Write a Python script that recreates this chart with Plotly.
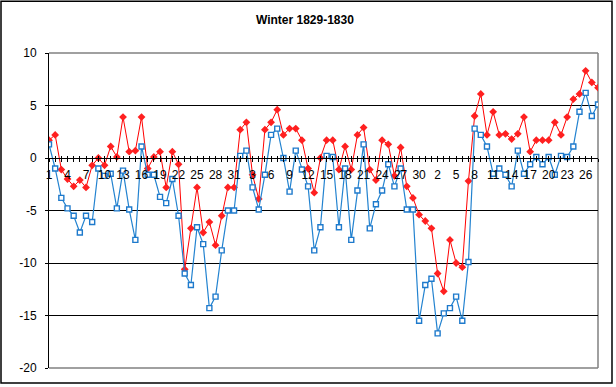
import plotly.graph_objects as go

# Categories: every day from 1 Dec 1829 to 28 Feb 1830
day_numbers = list(range(1, 32)) + list(range(1, 32)) + list(range(1, 29))
months = ["Dec"] * 31 + ["Jan"] * 31 + ["Feb"] * 28
categories = [f"{d} {m}" for d, m in zip(day_numbers, months)]

# Red series (higher readings)
red_values = [
    1.7, 2.2, -1.1, -2.0, -2.7, -2.1, -2.8, -0.7, 0.0, -0.7,
    1.1, 0.1, 3.9, 0.6, 0.7, 3.9, -1.0, 0.1, 0.6, -2.8,
    0.6, -0.6, -10.6, -6.7, -2.8, -7.1, -6.1, -8.3, -5.5, -2.8,
    -2.8, 2.7, 3.4, -1.6, -3.9, 2.7, 3.4, 4.6, 2.2, 2.8,
    2.8, 1.7, -1.0, -3.3, 0.0, 1.7, 1.7, -1.1, 1.1, -1.1,
    2.2, 2.9, -1.1, -2.1, 1.7, 1.3, -1.7, 1.0, -2.7, -3.8,
    -5.4, -6.0, -6.7, -11.0, -12.7, -7.8, -10.0, -10.4, -2.2, 4.0,
    6.1, 2.2, 4.4, 2.2, 2.3, 1.8, 2.3, 3.9, 0.6, 1.7,
    1.7, 1.7, 3.4, 2.2, 3.9, 5.6, 6.1, 8.3, 7.2, 6.7,
]

# Blue series (lower readings)
blue_values = [
    1.3, -1.0, -3.8, -4.8, -5.5, -7.1, -5.5, -6.1, -1.0, -1.7,
    -1.5, -4.8, -1.2, -4.9, -7.8, 1.1, -1.6, -1.6, -3.7, -4.3,
    -2.0, -5.5, -11.0, -12.1, -6.6, -8.2, -14.3, -13.2, -8.8, -5.0,
    -5.0, 0.2, 0.7, -2.8, -4.9, -1.6, 2.2, 2.8, 0.0, -3.2,
    0.7, -1.1, -2.7, -8.8, -6.6, 0.2, 0.1, -6.6, -1.0, -7.8,
    -3.1, 1.3, -6.7, -4.4, -3.1, -0.6, -2.7, -1.0, -4.9, -4.9,
    -15.5, -12.1, -11.5, -16.7, -14.8, -14.3, -13.2, -15.5, -9.9, 2.8,
    2.2, 1.1, -1.5, -1.0, -1.6, -2.7, 0.7, -1.5, -0.6, 0.1,
    -0.6, 0.1, -1.6, 0.2, 0.1, 1.1, 4.4, 6.2, 4.0, 5.1,
]

# Tick labels: every third day
tick_positions = list(range(len(categories)))
tick_labels = [str(day_numbers[i]) if i % 3 == 0 else "" for i in tick_positions]

y_ticks = [10, 5, 0, -5, -10, -15, -20]

x_idx = list(range(len(categories)))

fig = go.Figure()
fig.add_trace(go.Scatter(
    x=x_idx, y=red_values, mode="lines+markers", name="Red",
    text=categories, hoverinfo="text+y",
    line=dict(color="#FF0000", width=1),
    marker=dict(symbol="diamond", size=6, color="#FF2020", line=dict(width=0)),
))
fig.add_trace(go.Scatter(
    x=x_idx, y=blue_values, mode="lines+markers", name="Blue",
    text=categories, hoverinfo="text+y",
    line=dict(color="#2383D0", width=1.2),
    marker=dict(symbol="square", size=5, color="white",
                line=dict(color="#1E7ACC", width=1.4)),
))
# invisible trace to host the crossing-tick overlay axis
fig.add_trace(go.Scatter(x=[0], y=[0], xaxis="x2", mode="markers",
                         marker=dict(opacity=0), hoverinfo="skip",
                         showlegend=False))

axis_font = dict(family="Liberation Sans, Arial, sans-serif", size=12, color="black")

fig.update_layout(
    width=616, height=387,
    margin=dict(l=49, r=18, t=53, b=17),
    paper_bgcolor="white", plot_bgcolor="white",
    showlegend=False,
    title=dict(text="<b>Winter 1829-1830</b>", x=0.495, xanchor="center",
               y=1 - 20 / 387, yanchor="middle",
               font=dict(family="Liberation Sans, Arial, sans-serif", size=12, color="black")),
    xaxis=dict(
        range=[0, len(categories) - 1],
        anchor="free", position=20 / 30,
        tickmode="array", tickvals=tick_positions, ticktext=tick_labels,
        ticks="outside", ticklen=3, tickcolor="black", tickwidth=1,
        showline=True, linecolor="black", linewidth=1,
        showgrid=False, zeroline=False,
        tickfont=axis_font, ticklabelstandoff=3,
    ),
    xaxis2=dict(
        overlaying="x", matches="x", range=[0, len(categories) - 1],
        anchor="free", position=20 / 30,
        tickmode="array", tickvals=tick_positions,
        ticks="inside", ticklen=2, tickcolor="black",
        showticklabels=False, showline=False, showgrid=False, zeroline=False,
    ),
    yaxis=dict(
        range=[-20, 10], tickmode="array", tickvals=y_ticks,
        ticktext=[str(v) for v in y_ticks],
        ticks="outside", ticklen=3, tickcolor="black",
        showline=True, linecolor="black", linewidth=1,
        showgrid=True, gridcolor="black", gridwidth=1,
        zeroline=False, tickfont=axis_font, ticklabelstandoff=6,
    ),
    shapes=[
        # grey plot-area border (top, right, bottom)
        dict(type="line", xref="paper", yref="paper", x0=0, x1=1, y0=1, y1=1,
             line=dict(color="#808080", width=1.5), layer="between"),
        dict(type="line", xref="paper", yref="paper", x0=1, x1=1, y0=0, y1=1,
             line=dict(color="#808080", width=1.5), layer="between"),
        dict(type="line", xref="paper", yref="paper", x0=0, x1=1, y0=0, y1=0,
             line=dict(color="#808080", width=1.5), layer="between"),
        # black outer chart border
        dict(type="rect", xref="paper", yref="paper",
             x0=(1 - 49) / 549, x1=(612 - 49) / 549,
             y0=(370 - 385) / 317, y1=(370 - 1) / 317,
             line=dict(color="black", width=1.5), layer="above"),
    ],
)

fig.write_html("out.html", config={"displayModeBar": False},
               post_script="document.body.style.margin='0';")
